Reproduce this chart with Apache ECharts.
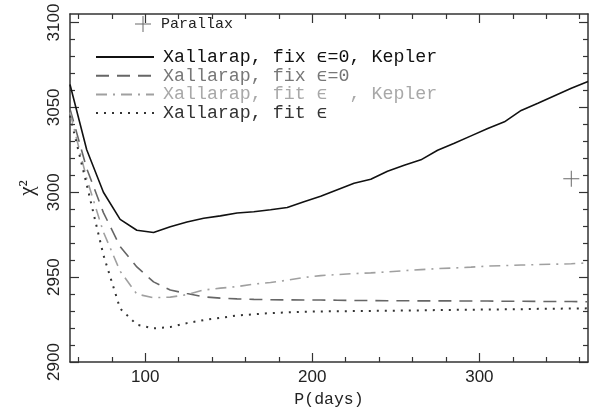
<!DOCTYPE html>
<html><head><meta charset="utf-8">
<script src="https://cdn.jsdelivr.net/npm/echarts@6/dist/echarts.min.js"></script>
<style>html,body{margin:0;padding:0;background:#fff}#c{width:597px;height:416px}</style>
</head><body><div id="c"></div>
<script>
// Data
const periods = [55,65,75,85,95,105,115,125,135,145,155,165,175,185,195,205,215,225,235,245,255,265,275,285,295,305,315,325,335,345,355,365];
const chiKeplerFix = [3063.5,3025,3000,2984,2977.6,2976.3,2979.7,2982.5,2984.7,2986.1,2987.8,2988.5,2989.7,2991,2994.4,2997.6,3001.5,3005.3,3007.6,3012.4,3015.9,3019.1,3024.7,3028.8,3033.2,3037.6,3041.5,3048.2,3052.4,3056.8,3061.2,3065.3];
const chiFix = [3049,3014,2988,2968,2956,2947.2,2942.4,2940.3,2938.4,2937.6,2937.2,2936.9,2936.7,2936.6,2936.5,2936.5,2936.4,2936.2,2936.2,2936.1,2936.1,2936.0,2936.0,2936.0,2935.9,2935.9,2935.8,2935.8,2935.7,2935.6,2935.6,2935.5];
const chiKeplerFit = [3047,3008,2976.5,2953.5,2940,2937.9,2938.2,2939.7,2942.4,2943.5,2944.4,2945.9,2946.8,2948.2,2949.8,2950.9,2951.5,2952.1,2952.5,2953.1,2953.8,2954.4,2955.0,2955.4,2955.9,2956.5,2956.8,2957.1,2957.4,2957.6,2957.9,2958.4];
const chiFit = [3045,3004.5,2963,2931.5,2922,2919.8,2920.6,2922.9,2924.7,2926,2927.4,2928.1,2928.8,2929.2,2929.6,2929.8,2929.9,2930.0,2930.1,2930.2,2930.3,2930.4,2930.6,2930.7,2930.8,2930.9,2931.0,2931.1,2931.3,2931.4,2931.5,2931.6];
const parallax = [[355, 3008]];
const seriesNames = ['Xallarap, fix ϵ=0, Kepler','Xallarap, fix ϵ=0','Xallarap, fit ϵ  , Kepler','Xallarap, fit ϵ'];
const xMajor = [100,200,300];
const xMinor = [60,80,120,140,160,180,220,240,260,280,320,340,360];
const yMajor = [2900,2950,3000,3050,3100];
const yMinor = [2910,2920,2930,2940,2960,2970,2980,2990,3010,3020,3030,3040,3060,3070,3080,3090];

const pair = (ys) => periods.map((p, i) => [p, ys[i]]);
const AX = '#333';
function xAx(pos, ticks, len, labels, line) {
  return {
    type: 'value', position: pos, min: 55, max: 365, splitLine: {show: false},
    axisLine: {show: line, lineStyle: {color: AX, width: 1.5}},
    axisTick: {show: true, inside: true, length: len, customValues: ticks, lineStyle: {color: AX, width: 1.2}},
    axisLabel: labels ? {show: true, customValues: xMajor, margin: 7, color: '#222', fontFamily: 'Liberation Sans', fontSize: 17, formatter: v => String(v)} : {show: false},
    name: labels ? 'P(days)' : '', nameLocation: 'middle', nameGap: 28,
    nameTextStyle: {fontFamily: 'Liberation Mono', fontSize: 16.5, color: '#222'}
  };
}
function yAx(pos, ticks, len, labels, line) {
  return {
    type: 'value', position: pos, min: 2900, max: 3105, splitLine: {show: false},
    axisLine: {show: line, lineStyle: {color: AX, width: 1.5}},
    axisTick: {show: true, inside: true, length: len, customValues: ticks, lineStyle: {color: AX, width: 1.2}},
    axisLabel: labels ? {show: true, customValues: yMajor, rotate: 90, margin: 7, color: '#222', fontFamily: 'Liberation Sans', fontSize: 17, formatter: v => String(v)} : {show: false},
    name: labels ? 'χ²' : '', nameLocation: 'middle', nameGap: 29, nameRotate: 90,
    nameTextStyle: {fontFamily: 'Liberation Serif', fontSize: 21, color: '#222'}
  };
}
const crossPath = 'path://M7.5,0H8.5V16H7.5Z M0,7.5H16V8.5H0Z';
const chart = echarts.init(document.getElementById('c'), null, {renderer: 'canvas'});
chart.setOption({
  animation: false,
  backgroundColor: '#fff',
  grid: {left: 70, right: 9, top: 14, bottom: 54, containLabel: false},
  xAxis: [xAx('bottom', xMajor, 9, true, true), xAx('bottom', xMinor, 5, false, false), xAx('top', xMajor, 9, false, true), xAx('top', xMinor, 5, false, false)],
  yAxis: [yAx('left', yMajor, 9, true, true), yAx('left', yMinor, 5, false, false), yAx('right', yMajor, 9, false, true), yAx('right', yMinor, 5, false, false)],
  legend: [
    {data: ['Parallax'], left: 135, top: 16, padding: 0, itemWidth: 16, itemHeight: 16, icon: crossPath,
     textStyle: {fontFamily: 'Liberation Mono', fontSize: 15, color: '#222', padding: [0,0,0,5]}},
    {orient: 'vertical', left: 95, top: 48, padding: 0, itemWidth: 58, itemHeight: 12, itemGap: 0.7,
     itemStyle: {opacity: 0, color: 'rgba(0,0,0,0)', borderWidth: 0},
     data: [
       {name: seriesNames[0], textStyle: {color: '#111'}},
       {name: seriesNames[1], textStyle: {color: '#777'}},
       {name: seriesNames[2], textStyle: {color: '#a8a8a8'}},
       {name: seriesNames[3], textStyle: {color: '#333'}}
     ],
     textStyle: {fontFamily: 'Liberation Mono', fontSize: 18.3, lineHeight: 16, padding: [0,0,0,4]}}
  ],
  series: [
    {name: seriesNames[0], type: 'line', data: pair(chiKeplerFix), symbol: 'none', color: '#111',
     lineStyle: {color: '#111', width: 1.6, type: 'solid'}},
    {name: seriesNames[1], type: 'line', data: pair(chiFix), symbol: 'none', color: '#666',
     lineStyle: {color: '#666', width: 1.6, type: [13, 8]}},
    {name: seriesNames[2], type: 'line', data: pair(chiKeplerFit), symbol: 'none', color: '#a0a0a0',
     lineStyle: {color: '#a0a0a0', width: 1.6, type: [11, 6, 2, 6]}},
    {name: seriesNames[3], type: 'line', data: pair(chiFit), symbol: 'none', color: '#333',
     lineStyle: {color: '#333', width: 2, type: [2, 6]}},
    {name: 'Parallax', type: 'scatter', data: parallax, symbol: crossPath, symbolSize: 16,
     itemStyle: {color: '#444'}}
  ]
});
</script></body></html>
